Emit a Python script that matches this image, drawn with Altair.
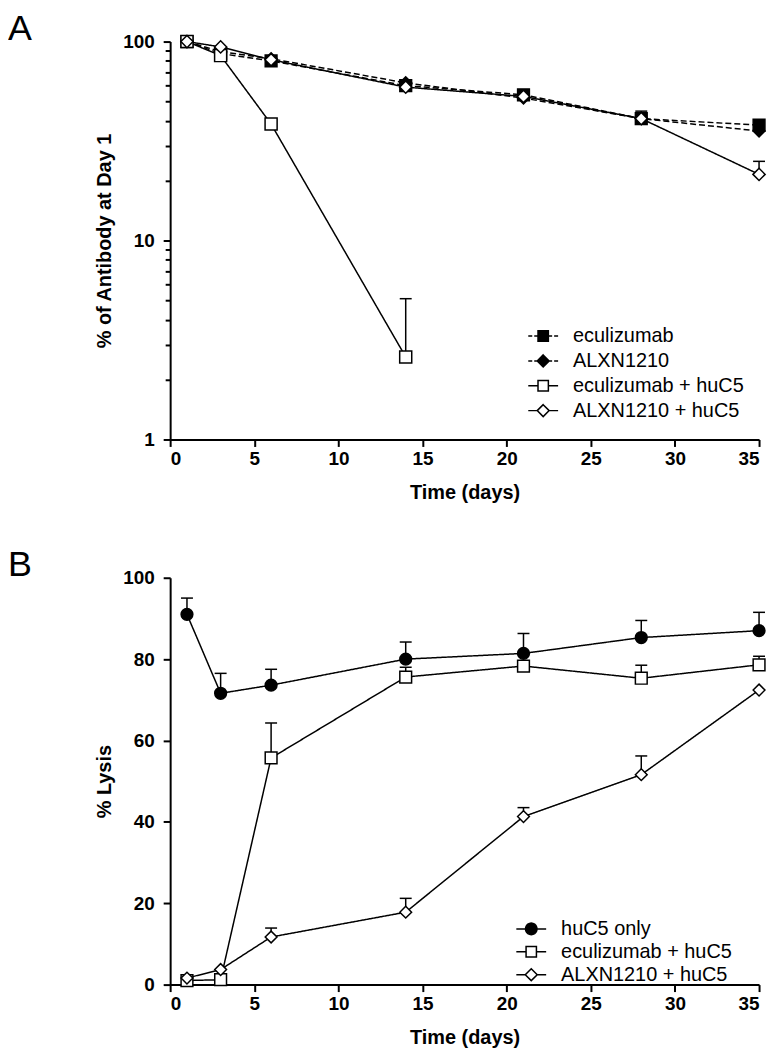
import math
import altair as alt
import pandas as pd

# ---------------- data ----------------
days = [1, 3, 6, 14, 21, 28, 35]

# Panel A: % of antibody at day 1
a_names = ["eculizumab", "ALXN1210", "eculizumab + huC5", "ALXN1210 + huC5"]
a_ecu = [100, 87, 80, 60, 54, 41, 38]
a_alx = [100, 89, 82, 62, 52, 41, 35.5]
a_ecu_c5_days = [1, 3, 6, 14]
a_ecu_c5 = [100, 85, 38.5, 2.6]
a_ecu_c5_up = [None, None, None, 5.1]
a_alx_c5 = [100, 94, 81, 59, 53, 41, 21.5]
a_alx_c5_up = [None, None, None, None, None, 44.7, 25]

# Panel B: % lysis
b_names = ["huC5 only", "eculizumab + huC5", "ALXN1210  + huC5"]
b_c5 = [91, 71.6, 73.6, 80, 81.4, 85.3, 87]
b_c5_up = [95, 76.5, 77.5, 84.2, 86.3, 89.5, 91.5]
b_ecu = [1.0, 1.2, 55.7, 75.6, 78.3, 75.3, 78.6]
b_ecu_up = [None, None, 64.3, 78, None, 78.5, 80.7]
b_alx = [1.6, 3.7, 11.7, 17.8, 41.3, 51.6, 72.4]
b_alx_up = [None, None, 13.9, 21.2, 43.5, 56.2, None]


def long(name, xs, ys, ups=None):
    ups = ups if ups is not None else [None] * len(xs)
    return pd.DataFrame({"series": name, "day": xs, "value": ys, "upper": ups})


df_a = pd.concat([
    long(a_names[0], days, a_ecu),
    long(a_names[1], days, a_alx),
    long(a_names[2], a_ecu_c5_days, a_ecu_c5, a_ecu_c5_up),
    long(a_names[3], days, a_alx_c5, a_alx_c5_up),
], ignore_index=True)

df_b = pd.concat([
    long(b_names[0], days, b_c5, b_c5_up),
    long(b_names[1], days, b_ecu, b_ecu_up),
    long(b_names[2], days, b_alx, b_alx_up),
], ignore_index=True)

FONT = "Liberation Sans"

# ---------------- legend symbol paths (unit = 10 px) ----------------
SQ = "M-0.52,-0.52H0.52V0.52H-0.52Z"
DI = "M0,-0.6L0.6,0L0,0.6L-0.6,0Z"
circ = "M" + "L".join(
    f"{0.58*math.cos(2*math.pi*k/20):.3f},{0.58*math.sin(2*math.pi*k/20):.3f}" for k in range(20)) + "Z"
dash_sq = "M-1.5,0H-1.1M-0.9,0H-0.52M0.52,0H0.9M1.1,0H1.5"
dash_di = "M-1.5,0H-1.1M-0.9,0H-0.6M0.6,0H0.9M1.1,0H1.5"
solid_sq = "M-1.5,0H-0.52M0.52,0H1.5"
solid_di = "M-1.5,0H-0.6M0.6,0H1.5"

a_legend_paths = [dash_sq + SQ, dash_di + DI, solid_sq + SQ, solid_di + DI]
b_legend_paths = ["M-1.5,0H1.5" + circ, solid_sq + SQ, solid_di + DI]


def panel(df, names, shapes, sizes, fills, dashes, legend_paths, ytitle,
          yscale, yaxis, legend_x, legend_y, row_pad, label):
    xenc = alt.X("day:Q", title="Time (days)",
                 scale=alt.Scale(domain=[0, 35], nice=False, zero=False),
                 axis=alt.Axis(values=[0, 5, 10, 15, 20, 25, 30, 35], format="d"))

    def yenc(field):
        return alt.Y(field, title=ytitle, scale=yscale, axis=yaxis)

    base = alt.Chart(df)
    has_err = base.transform_filter("isValid(datum.upper)")
    err = has_err.mark_rule(color="black", strokeWidth=1.5).encode(
        x=xenc, y=yenc("value:Q"), y2="upper:Q")
    cap = has_err.mark_rule(color="black", strokeWidth=1.5, xOffset=-6, x2Offset=6).encode(
        x=xenc, x2="day:Q", y=yenc("upper:Q"))
    line = base.mark_line(color="black", strokeWidth=1.5).encode(
        x=xenc, y=yenc("value:Q"), detail="series:N",
        strokeDash=alt.StrokeDash("series:N", scale=alt.Scale(domain=names, range=dashes),
                                  legend=None))
    pts = base.mark_point(filled=True, stroke="black", strokeWidth=1.5, opacity=1).encode(
        x=xenc, y=yenc("value:Q"),
        shape=alt.Shape("series:N", scale=alt.Scale(domain=names, range=shapes), legend=None),
        size=alt.Size("series:N", scale=alt.Scale(domain=names, range=sizes), legend=None),
        fill=alt.Fill("series:N", scale=alt.Scale(domain=names, range=fills), legend=None),
    )
    leg_common = dict(title=None, orient="none", legendX=legend_x, legendY=legend_y,
                      labelFont=FONT, labelFontSize=20, labelColor="black",
                      symbolSize=400, symbolStrokeWidth=1.5, symbolStrokeColor="black",
                      symbolOpacity=1,
                      labelOffset=19, rowPadding=row_pad, padding=0, labelLimit=400)
    leg = base.transform_calculate(entry="datum.series").transform_filter("false").mark_point(
        filled=True, strokeWidth=1.5, opacity=1).encode(
        shape=alt.Shape("entry:N", scale=alt.Scale(domain=names, range=legend_paths),
                        legend=alt.Legend(**leg_common)),
        fill=alt.Fill("entry:N", scale=alt.Scale(domain=names, range=fills),
                      legend=alt.Legend(**leg_common)),
        stroke=alt.Stroke("entry:N", scale=alt.Scale(domain=names, range=["black"] * len(names)),
                          legend=alt.Legend(**leg_common)),
    )
    txt = alt.Chart(pd.DataFrame({"t": [label]})).mark_text(
        align="left", baseline="top", fontSize=36, font=FONT, color="black").encode(
        text="t:N", x=alt.value(-163), y=alt.value(-30))
    return alt.layer(err, cap, line, pts, leg, txt).resolve_scale(
        shape="independent", fill="independent", stroke="independent")


major = "datum.value == 1 || datum.value == 10 || datum.value == 100"
a_vals = [1, 2, 3, 4, 5, 6, 7, 8, 9, 10, 20, 30, 40, 50, 60, 70, 80, 90, 100]
a_yaxis = alt.Axis(values=a_vals, format="d",
                   labelExpr=f"({major}) ? datum.label : ''",
                   tickSize={"condition": {"test": major, "value": 7}, "value": 5})
a_yscale = alt.Scale(type="log", domain=[1, 100], nice=False)

chart_a = panel(df_a, a_names,
                ["square", "diamond", "square", "diamond"],
                [140, 150, 140, 150],
                ["black", "black", "white", "white"],
                [[6, 3], [6, 3], [1, 0], [1, 0]],
                a_legend_paths, "% of Antibody at Day 1",
                a_yscale, a_yaxis, 364, 285, 4, "A").properties(width=592, height=400)

b_yaxis = alt.Axis(values=[0, 20, 40, 60, 80, 100], format="d", tickSize=7)
b_yscale = alt.Scale(domain=[0, 100], nice=False)

chart_b = panel(df_b, b_names,
                ["circle", "square", "diamond"],
                [140, 140, 150],
                ["black", "white", "white"],
                [[1, 0], [1, 0], [1, 0]],
                b_legend_paths, "% Lysis",
                b_yscale, b_yaxis, 352, 342, 2, "B").properties(width=592, height=409)

chart = alt.vconcat(chart_a, chart_b, spacing=139, bounds="flush").resolve_scale(
    shape="independent", fill="independent", size="independent",
    strokeDash="independent", stroke="independent"
).properties(
    padding={"left": 0, "top": 0, "right": 0, "bottom": 0}
).configure_view(stroke=None).configure_axis(
    grid=False, domainColor="black", domainWidth=2, tickColor="black", tickWidth=2,
    tickSize=7, labelFont=FONT, labelFontSize=19, labelFontWeight="bold",
    labelColor="black", labelPadding=3, titleFont=FONT, titleFontSize=20,
    titleFontWeight="bold", titleColor="black",
).configure_axisY(labelPadding=9, titlePadding=8).configure_axisX(titlePadding=14)

chart.save("out.html", embed_options={"renderer": "svg", "actions": False})
